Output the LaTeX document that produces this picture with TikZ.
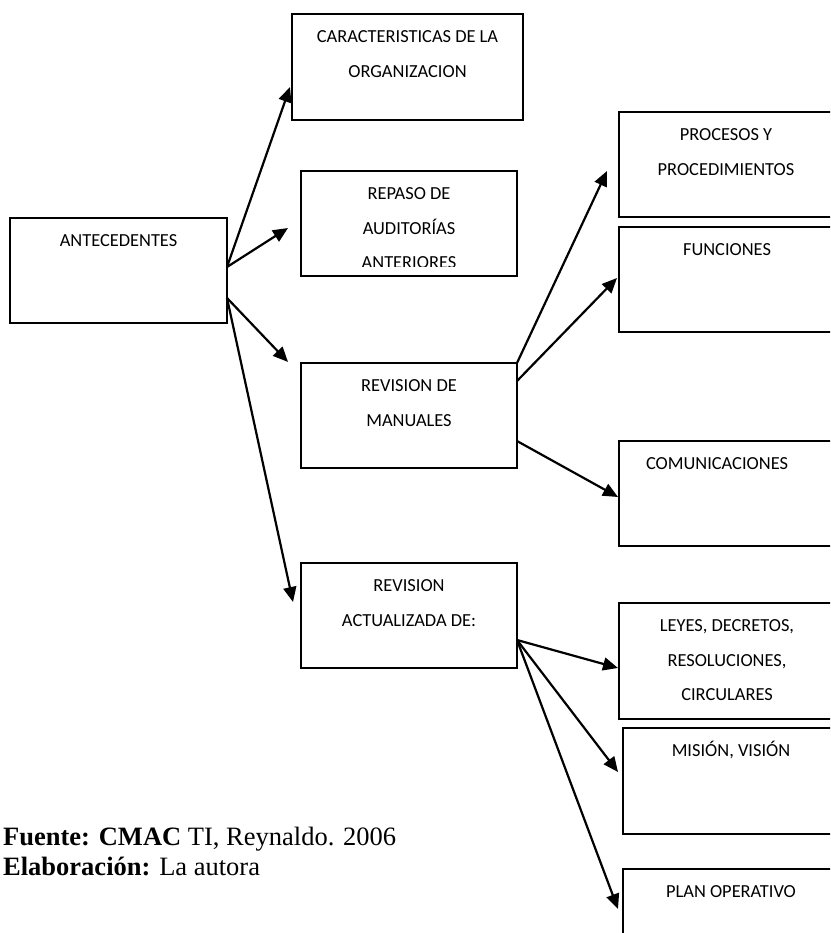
\documentclass[tikz,border=0pt]{standalone}
\usepackage{fontspec}
\usepackage{tikz}
\usetikzlibrary{arrows.meta, positioning, calc}
\newfontfamily\boxfont{Carlito}
\newfontfamily\srcfont{Liberation Serif}

\begin{document}
\begin{tikzpicture}[
  x=1pt, y=-1pt,
  node distance=4.25pt,
  box/.style={draw, line width=1.8pt, outer sep=0pt, inner sep=0pt},
  lbl/.style={font={\boxfont\fontsize{18.4}{34.5}\selectfont}, align=center, inner sep=0pt},
  arr/.style={-{Triangle[length=15pt, width=13pt]}, line width=2.2pt},
  src/.style={font={\srcfont\fontsize{26.5}{30}\selectfont}, inner sep=0pt},
]
  % Frame (right column runs off the page)
  \useasboundingbox (0,0) rectangle (830,933);
  \clip (0,0) rectangle (830,933);
  \fill[white] (0,0) rectangle (830,933);

  % Left and middle boxes
  \node[box, minimum width=217pt, minimum height=105pt] (ant) at (118.5,270.5) {};
  \node[box, minimum width=231pt, minimum height=106pt] (carac) at (407.5,67) {};
  \node[box, minimum width=216pt, minimum height=105pt] (repaso) at (409,223.5) {};
  \node[box, minimum width=216pt, minimum height=105pt] (revman) at (409,415.5) {};
  \node[box, minimum width=216pt, minimum height=105pt] (revact) at (409,615.5) {};

  % Right boxes
  \node[box, minimum width=214pt, minimum height=105pt] (proc) at (726,164.5) {};
  \node[box, minimum width=214pt, minimum height=105pt] (func) at (726,279.5) {};
  \node[box, minimum width=214pt, minimum height=105pt] (comm) at (726,493.5) {};
  \node[box, minimum width=214pt, minimum height=116pt] (leyes) at (726,661) {};
  \node[box, minimum width=210pt, minimum height=106pt] (mision) at (728,781) {};
  \node[box, minimum width=210pt, minimum height=106pt] (plan) at (728,922) {};

  % Box texts
  \node[lbl, below=of ant.north] (antT) {\strut ANTECEDENTES};
  \node[lbl, below=of carac.north] (caracT) {\strut CARACTERISTICAS DE LA\\ORGANIZACION};
  \begin{scope}
    \clip (301,171) rectangle (517,266.5);
    \node[lbl, below=of repaso.north] (repasoT) {\strut REPASO DE\\AUDITORÍAS\\ANTERIORES};
  \end{scope}
  \node[lbl, below=of revman.north] (revmanT) {\strut REVISION DE\\MANUALES};
  \node[lbl, below=of revact.north] (revactT) {\strut REVISION\\ACTUALIZADA DE:};
  \node[lbl, below=of proc.north] (procT) {\strut PROCESOS Y\\PROCEDIMIENTOS};
  \node[lbl, below=of func.north, xshift=1pt] (funcT) {\strut FUNCIONES};
  \node[lbl, below=of comm.north, xshift=-9pt] (commT) {\strut COMUNICACIONES};
  \node[lbl, below=of leyes.north, xshift=1pt] (leyesT) {\strut LEYES, DECRETOS,\\RESOLUCIONES,\\CIRCULARES};
  \node[lbl, below=of mision.north, xshift=3pt] (misionT) {\strut MISIÓN, VISIÓN};
  \node[lbl, below=of plan.north, xshift=3pt] (planT) {\strut PLAN OPERATIVO};

  % Arrows from ANTECEDENTES
  \draw[arr] ($(ant.east)+(0,-3.5)$) -- ($(carac.west)+(-2,20)$);
  \draw[arr] ($(ant.east)+(0,-3.5)$) -- ($(repaso.west)+(-13,4.5)$);
  \draw[arr] ($(ant.east)+(0,27.5)$) -- ($(revman.north west)+(-13,-1)$);
  \draw[arr] ($(ant.east)+(0,27.5)$) -- ($(revact.west)+(-8,-13.5)$);

  % Arrows from REVISION DE MANUALES
  \draw[arr] (revman.north east) -- ($(proc.west)+(-12,6.5)$);
  \draw[arr] ($(revman.north east)+(0,18)$) -- ($(func.west)+(-2,-1.5)$);
  \draw[arr] ($(revman.east)+(0,25.5)$) -- ($(comm.west)+(-1,3.5)$);

  % Arrows from REVISION ACTUALIZADA
  \draw[arr] ($(revact.east)+(0,24.5)$) -- ($(leyes.west)+(-1,7)$);
  \draw[arr] ($(revact.east)+(0,24.5)$) -- ($(mision.west)+(-5,-9)$);
  \draw[arr] ($(revact.east)+(0,24.5)$) -- ($(plan.west)+(-5,-13)$);

  % Source note
  \node[src, anchor=base west] (fuente) at (3,845) {\textbf{Fuente: CMAC} TI, Reynaldo. 2006};
  \node[src, anchor=base west] (elab) at (3,875) {\textbf{Elaboración:} La autora};

\end{tikzpicture}
\end{document}
